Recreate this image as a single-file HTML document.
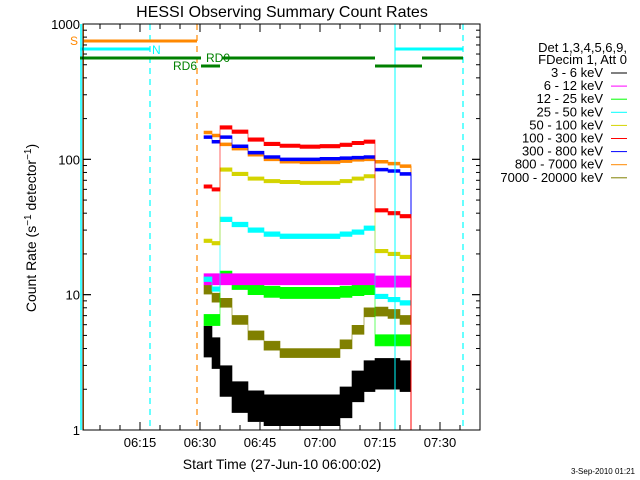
<!DOCTYPE html>
<html><head><meta charset="utf-8"><style>
html,body{margin:0;padding:0;background:#fff}
svg{display:block}
text{font-family:"Liberation Sans",sans-serif}
</style></head><body>
<svg id="c" width="640" height="480" xmlns="http://www.w3.org/2000/svg"></svg>
<script>
const segStarts=[31,33,35,38,42,46,50,55,60,65,68,71,73.75,77,80];
const segEnd=82.75;
const seriesNames=["3 - 6 keV","6 - 12 keV","12 - 25 keV","25 - 50 keV","50 - 100 keV","100 - 300 keV","300 - 800 keV","800 - 7000 keV","7000 - 20000 keV"];
const seriesColors=["#000000","#ff00ff","#00ff00","#00ffff","#d4d400","#ff0000","#0000ff","#ff8800","#808000"];
const rate3to6=[4.5,3.7,2.3,1.75,1.5,1.4,1.4,1.4,1.4,1.6,2.1,2.5,2.6,2.6,2.5];
const rate6to12=[13,13,13,13,13,13,13,13,13,13,13,13,12.5,12.5,12.5];
const rate12to25=[6.5,6.5,13.6,12,11,10.5,10.3,10.3,10.3,10.5,10.8,11,4.6,4.6,4.6];
const rate25to50=[13,11,36,33,30,28,27,27,27,28,29,31,9.7,9.2,8.7];
const rate50to100=[25,24,84,78,72,69,68,67,67,69,72,75,21,20,19];
const rate100to300=[63,60,172,160,140,130,126,124,125,128,132,135,42,40,38];
const rate300to800=[146,135,146,125,112,104,100,100,101,102,103,104,84,82,78];
const rate800to7000=[158,150,129,120,108,100,96,95,95,97,99,100,96,93,89];
const rate7000to20000=[10.9,9.5,8.7,6.5,5,4.2,3.7,3.7,3.7,4.3,5.5,7.4,7.5,7.2,6.5];
const noiseRatio=[1.3,1.1,1.1,1.04,1.03,1.03,1.025,1.025,1.08];
const xTickMinutes=[15,30,45,60,75,90];
const xTickLabels=["06:15","06:30","06:45","07:00","07:15","07:30"];
const yTickValues=[1,10,100,1000];
const yTickLabels=["1","10","100","1000"];

const NS="http://www.w3.org/2000/svg";
const svg=document.getElementById('c');
const L=83,R=480,T=24,B=430;
const xMin=0.75,xMax=100;
function X(t){return L+(t-xMin)/(xMax-xMin)*(R-L);}
function Y(v){return B-(Math.log10(v))/3*(B-T);}
function el(tag,attrs,parent){const e=document.createElementNS(NS,tag);for(const k in attrs)e.setAttribute(k,attrs[k]);(parent||svg).appendChild(e);return e;}

const all=[rate3to6,rate6to12,rate12to25,rate25to50,rate50to100,rate100to300,rate300to800,rate800to7000,rate7000to20000];
const drawOrder=[0,8,2,1,3,4,7,6,5];
drawOrder.forEach(si=>{
  const vals=all[si],col=seriesColors[si],r=noiseRatio[si];
  const g=el('g',{});
  
  
  let top='',bot=[];
  for(let i=0;i<vals.length;i++){
    const t0=segStarts[i],t1=i+1<segStarts.length?segStarts[i+1]:segEnd;
    const hi=Y(vals[i]*r),lo=Y(Math.max(1,vals[i]/r));
    top+=(i?'L':'M')+X(t0)+' '+hi+' L'+X(t1)+' '+hi+' ';
    bot.unshift('L'+X(t1)+' '+lo+' L'+X(t0)+' '+lo);
  }
  el('path',{d:top+bot.join(' ')+'Z',fill:col,stroke:col,'stroke-width':0.6},g);
  el('line',{x1:X(segEnd),x2:X(segEnd),y1:Y(vals[vals.length-1]),y2:B,stroke:col,'stroke-width':1},g);
});

function ln(x1,y1,x2,y2,c,w,dash,name){const e=el('line',{x1,y1,x2,y2,stroke:c,'stroke-width':w});if(dash)e.setAttribute('stroke-dasharray',dash);return e;}
ln(81,T,81,B,'#00ffff',1.5,null,'saa-start-line');
ln(83.5,T,83.5,B,'#ff8800',1,null,'saa-orange-line');
ln(150,T,150,B,'#00ffff',1.2,'6,5','night-dash-line');
ln(197,T,197,B,'#ff8800',1.2,'6,5','saa-end-dash-line');
ln(395,T,395,B,'#00ffff',1,null,'night-start-line');
ln(463,T,463,B,'#00ffff',1.2,'6,5','night-end-dash-line');
ln(83,41,197,41,'#ff8800',3,null,'saa-flag');
ln(80,49,150,49,'#00ffff',3,null,'night-flag');
ln(395,49,463,49,'#00ffff',3,null,'night-flag-2');
ln(80,58,201,58,'#008000',3,null,'rd0-flag');
ln(222,58,375,58,'#008000',3,null,'rd0-flag-2');
ln(422,58,463,58,'#008000',3,null,'rd0-flag-3');
ln(201,66,220,66,'#008000',3,null,'rd6-flag');
ln(375,66,422,66,'#008000',3,null,'rd6-flag-2');
function tx(x,y,s,opts,name){const e=el('text',Object.assign({x,y,'font-size':12},opts||{}));e.textContent=s;return e;}
tx(70,45,'S',{fill:'#ff8800'},'saa-flag-label');
tx(152,54,'N',{fill:'#00ffff'},'night-flag-label');
tx(206,62,'RD0',{fill:'#008000'},'rd0-label');
tx(173,70,'RD6',{fill:'#008000'},'rd6-label');

const fr=el('rect',{x:L,y:T,width:R-L,height:B-T,fill:'none',stroke:'#000','stroke-width':1});

for(let m=5;m<xMax;m+=5){const x=X(m),len=m%15==0?8:5;
  el('line',{x1:x,x2:x,y1:B,y2:B-len,stroke:'#000'});el('line',{x1:x,x2:x,y1:T,y2:T+len,stroke:'#000'});}
xTickMinutes.forEach((m,i)=>tx(X(m),447,xTickLabels[i],{'text-anchor':'middle','font-size':13},'x-tick-label'));
for(let d=0;d<3;d++)for(let k=1;k<=10;k++){const v=k*Math.pow(10,d),y=Y(v),len=(k==1||k==10)?8:4;
  el('line',{x1:L,x2:L+len,y1:y,y2:y,stroke:'#000'});el('line',{x1:R,x2:R-len,y1:y,y2:y,stroke:'#000'});}
yTickValues.forEach((v,i)=>tx(L-3,Y(v)+5,yTickLabels[i],{'text-anchor':'end','font-size':13},'y-tick-label'));

tx(282,17,'HESSI Observing Summary Count Rates',{'text-anchor':'middle','font-size':16},'chart-title');
tx(282,469,'Start Time (27-Jun-10 06:00:02)',{'text-anchor':'middle','font-size':14},'x-axis-title');
const yl=tx(0,0,'',{'text-anchor':'middle','font-size':14,transform:'translate(36,228) rotate(-90)'},'y-axis-title');
yl.innerHTML='Count Rate (s<tspan dy="-5" font-size="10">−1</tspan><tspan dy="5"> detector</tspan><tspan dy="-5" font-size="10">−1</tspan><tspan dy="5">)</tspan>';
tx(635,474,'3-Sep-2010 01:21',{'text-anchor':'end','font-size':8},'timestamp');

tx(627,52,'Det 1,3,4,5,6,9,',{'text-anchor':'end','font-size':13},'legend-detectors');
tx(627,64,'FDecim 1, Att 0',{'text-anchor':'end','font-size':13},'legend-fdecim');
seriesNames.forEach((n,i)=>{const y=77+i*13.1;
  const g=el('g',{});
  const t=el('text',{x:603,y:y,'text-anchor':'end','font-size':13},g);t.textContent=n;
  el('line',{x1:611,x2:627,y1:y-4,y2:y-4,stroke:seriesColors[i],'stroke-width':1},g);});
</script>
</body></html>
